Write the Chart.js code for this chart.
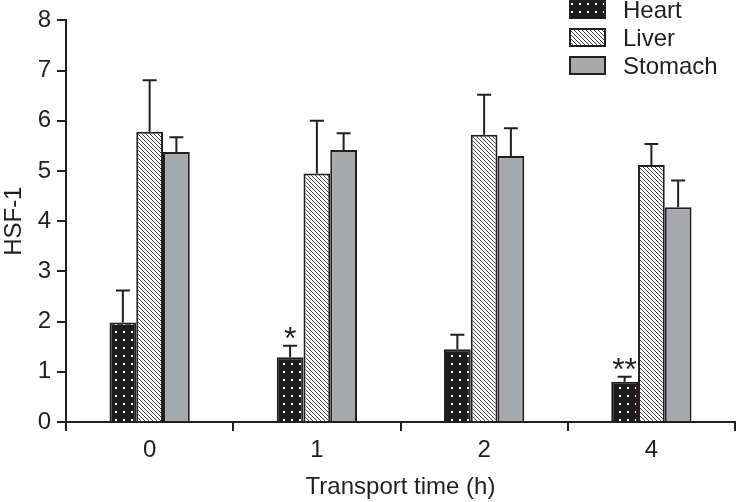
<!DOCTYPE html>
<html>
<head>
<meta charset="utf-8">
<script src="https://cdn.jsdelivr.net/npm/chart.js@4.4.0/dist/chart.umd.min.js"></script>
<style>
  html, body { margin: 0; padding: 0; background: #fff; }
  #wrap { width: 736px; height: 502px; }
</style>
</head>
<body>
<div id="wrap"><canvas id="hsfChart" width="736" height="502"></canvas></div>
<script>
// values
const timeLabels = ["0", "1", "2", "4"];
const heartVals = [1.98, 1.29, 1.45, 0.80];
const heartErr = [0.64, 0.23, 0.29, 0.10];
const liverVals = [5.78, 4.95, 5.72, 5.12];
const liverErr = [1.03, 1.05, 0.80, 0.42];
const stomachVals = [5.38, 5.42, 5.30, 4.28];
const stomachErr = [0.29, 0.33, 0.55, 0.53];
const heartMarks = ["", "*", "", "**"];
const yTicks = [0, 1, 2, 3, 4, 5, 6, 7, 8];

const ink = '#231f20';
const fontFamily = '"Liberation Sans", Arial, sans-serif';

// fill patterns
function dotPattern() {
    var c = document.createElement('canvas');
    c.width = 8; c.height = 8;
    var g = c.getContext('2d');
    g.fillStyle = '#1c1c1c';
    g.fillRect(0, 0, 8, 8);
    g.fillStyle = '#fff';
    g.fillRect(3, 3, 2, 2);
    return g.createPattern(c, 'repeat');
}
function hatchPattern() {
    var c = document.createElement('canvas');
    c.width = 4; c.height = 4;
    var g = c.getContext('2d');
    g.fillStyle = '#fff';
    g.fillRect(0, 0, 4, 4);
    g.strokeStyle = '#444';
    g.lineWidth = 1;
    g.beginPath();
    g.moveTo(-1, -1); g.lineTo(5, 5);
    g.moveTo(-1, 3); g.lineTo(1, 5);
    g.moveTo(3, -1); g.lineTo(5, 1);
    g.stroke();
    return g.createPattern(c, 'repeat');
}

const errorSets = [heartErr, liverErr, stomachErr];

// error bars (upper only) + significance stars
const errorBars = {
    id: 'errorBars',
    afterDatasetsDraw(chart) {
        var ctx = chart.ctx;
        var y = chart.scales.y;
        ctx.save();
        ctx.strokeStyle = ink;
        ctx.lineWidth = 2;
        chart.data.datasets.forEach(function(ds, di) {
            var meta = chart.getDatasetMeta(di);
            meta.data.forEach(function(bar, i) {
                var top = y.getPixelForValue(ds.data[i]);
                var end = y.getPixelForValue(ds.data[i] + errorSets[di][i]);
                ctx.beginPath();
                ctx.moveTo(bar.x, top);
                ctx.lineTo(bar.x, end);
                ctx.moveTo(bar.x - 7, end);
                ctx.lineTo(bar.x + 7, end);
                ctx.stroke();
                if (di === 0 && heartMarks[i]) {
                    ctx.fillStyle = ink;
                    ctx.font = '32px ' + fontFamily;
                    ctx.textAlign = 'center';
                    ctx.textBaseline = 'middle';
                    ctx.fillText(heartMarks[i], bar.x, end - 6);
                }
            });
        });
        ctx.restore();
    }
};

// legend in the top right corner
const cornerLegend = {
    id: 'cornerLegend',
    afterDraw(chart) {
        var ctx = chart.ctx;
        ctx.save();
        chart.data.datasets.forEach(function(ds, i) {
            var bx = 570, by = 1 + i * 28;
            ctx.fillStyle = ds.backgroundColor;
            ctx.fillRect(bx, by, 35, 17);
            ctx.strokeStyle = ink;
            ctx.lineWidth = 2;
            ctx.strokeRect(bx, by, 35, 17);
            ctx.fillStyle = ink;
            ctx.font = '24px ' + fontFamily;
            ctx.textAlign = 'left';
            ctx.textBaseline = 'middle';
            ctx.fillText(ds.label, 623, by + 10);
        });
        ctx.restore();
    }
};

var ctx = document.getElementById('hsfChart').getContext('2d');

var chartData = {
    labels: timeLabels,
    datasets: [
        {label: 'Heart', data: heartVals, backgroundColor: dotPattern(), borderColor: ink, borderWidth: 2},
        {label: 'Liver', data: liverVals, backgroundColor: hatchPattern(), borderColor: ink, borderWidth: 2},
        {label: 'Stomach', data: stomachVals, backgroundColor: '#a8a9ac', borderColor: ink, borderWidth: 2}
    ]
};

var chartOptions = {
    responsive: false,
    devicePixelRatio: 1,
    animation: false,
    layout: { padding: { top: 9, right: 1, left: 0, bottom: 0 } },
    datasets: { bar: { categoryPercentage: 0.48, barPercentage: 1.0 } },
    plugins: { legend: { display: false }, tooltip: { enabled: false } },
    scales: {
        x: {
            offset: true,
            grid: { display: true, offset: true, drawOnChartArea: false, tickLength: 9, color: ink, lineWidth: 2 },
            border: { display: true, color: ink, width: 2 },
            ticks: { color: ink, font: { family: fontFamily, size: 24 }, padding: 5 },
            title: { display: true, text: 'Transport time (h)', color: ink, font: { family: fontFamily, size: 24 }, padding: 0 },
            afterFit: function(s) { s.height = 80; }
        },
        y: {
            min: 0, max: 8,
            afterBuildTicks: function(s) { s.ticks = yTicks.map(function(v) { return {value: v}; }); },
            grid: { display: true, drawOnChartArea: false, tickLength: 9, color: ink, lineWidth: 2 },
            border: { display: true, color: ink, width: 2 },
            ticks: { color: ink, font: { family: fontFamily, size: 24 }, padding: 6 },
            title: { display: true, text: 'HSF-1', color: ink, font: { family: fontFamily, size: 24 }, padding: 0 },
            afterFit: function(s) { s.width = 66; }
        }
    }
};

var hsfChart = new Chart(ctx, {
    type: 'bar',
    data: chartData,
    options: chartOptions,
    plugins: [errorBars, cornerLegend]
});
</script>
</body>
</html>
